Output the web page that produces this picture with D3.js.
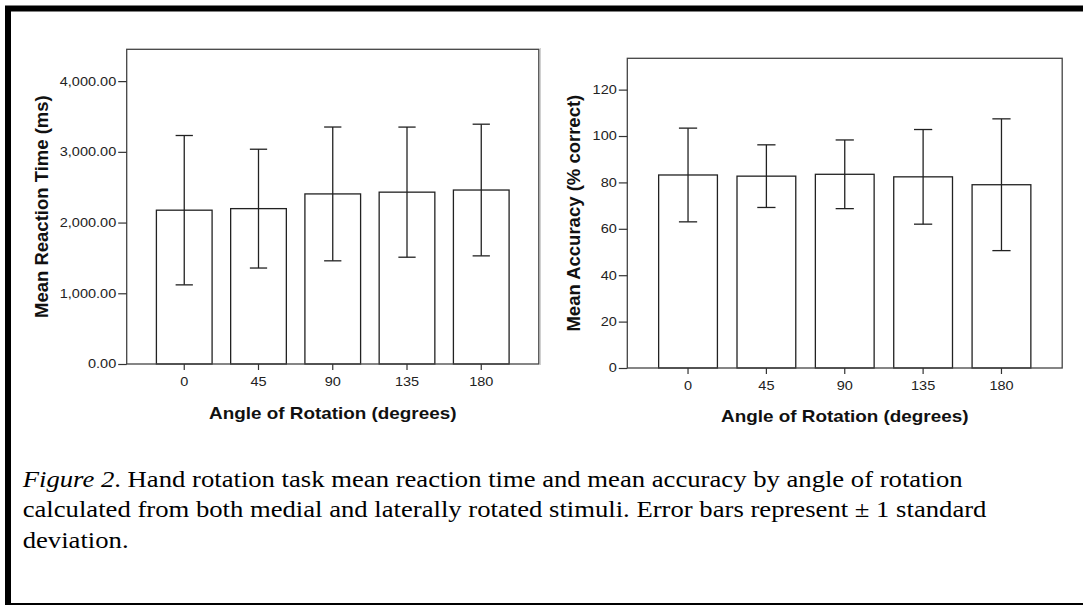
<!DOCTYPE html>
<html>
<head>
<meta charset="utf-8">
<script src="https://cdn.jsdelivr.net/npm/d3@7"></script>
<style>
  body { margin: 0; background: #fff; }
  svg { display: block; }
</style>
</head>
<body>
<svg id="fig" width="1083" height="605"></svg>
<script>
// Data
const angles = ["0", "45", "90", "135", "180"];

// mean reaction time (ms) and +/- 1 SD
const rtMean = [2175, 2197, 2405, 2430, 2460];
const rtSD = [1056, 840, 946, 920, 931];
const rtTicks = [0, 1000, 2000, 3000, 4000];

// mean accuracy (% correct) and +/- 1 SD
const accMean = [83.2, 82.7, 83.5, 82.4, 79.0];
const accSD = [20.2, 13.5, 14.8, 20.4, 28.4];
const accTicks = [0, 20, 40, 60, 80, 100, 120];

const captionLines = [
  [{ t: "Figure", i: true }, { t: " 2", i: true }, { t: ". Hand rotation task mean reaction time and mean accuracy by angle of rotation" }],
  [{ t: "calculated from both medial and laterally rotated stimuli. Error bars represent \u00b1 1 standard" }],
  [{ t: "deviation." }],
];

const svg = d3.select("#fig");
const stretch = 1.18; // source picture is stretched sideways

// outer frame
svg.append("rect")
  .attr("x", 8).attr("y", 8.5)
  .attr("width", 1100).attr("height", 597.5)
  .attr("fill", "none").attr("stroke", "#000").attr("stroke-width", 6);

// faint edge of the pasted left picture
svg.append("line")
  .attr("x1", 540.5).attr("x2", 540.5).attr("y1", 48).attr("y2", 365)
  .attr("stroke", "#d0d0d0").attr("stroke-width", 1);

function drawPanel(cfg) {
  const x = d3.scaleBand()
    .domain(angles)
    .range([cfg.left, cfg.right])
    .paddingInner(0.25)
    .paddingOuter(0.4);

  const y = d3.scaleLinear()
    .domain([0, cfg.max])
    .range([cfg.bottom, cfg.top]);

  const g = svg.append("g");

  // bars
  g.selectAll("rect.bar")
    .data(cfg.mean)
    .join("rect")
    .attr("class", "bar")
    .attr("x", (d, i) => x(angles[i]))
    .attr("y", (d) => y(d))
    .attr("width", x.bandwidth())
    .attr("height", (d) => y(0) - y(d))
    .attr("fill", "#fff")
    .attr("stroke", "#222")
    .attr("stroke-width", 1.3);

  // error bars
  const cap = x.bandwidth() * 0.31;
  const eb = g.selectAll("g.err")
    .data(cfg.mean)
    .join("g")
    .attr("class", "err")
    .attr("stroke", "#222")
    .attr("stroke-width", 1.3);
  eb.append("line")
    .attr("x1", (d, i) => x(angles[i]) + x.bandwidth() / 2)
    .attr("x2", (d, i) => x(angles[i]) + x.bandwidth() / 2)
    .attr("y1", (d, i) => y(d + cfg.sd[i]))
    .attr("y2", (d, i) => y(d - cfg.sd[i]));
  eb.append("line")
    .attr("x1", (d, i) => x(angles[i]) + x.bandwidth() / 2 - cap / 2)
    .attr("x2", (d, i) => x(angles[i]) + x.bandwidth() / 2 + cap / 2)
    .attr("y1", (d, i) => y(d + cfg.sd[i]))
    .attr("y2", (d, i) => y(d + cfg.sd[i]));
  eb.append("line")
    .attr("x1", (d, i) => x(angles[i]) + x.bandwidth() / 2 - cap / 2)
    .attr("x2", (d, i) => x(angles[i]) + x.bandwidth() / 2 + cap / 2)
    .attr("y1", (d, i) => y(d - cfg.sd[i]))
    .attr("y2", (d, i) => y(d - cfg.sd[i]));

  // plot frame
  g.append("rect")
    .attr("x", cfg.left).attr("y", cfg.top)
    .attr("width", cfg.right - cfg.left).attr("height", cfg.bottom - cfg.top)
    .attr("fill", "none").attr("stroke", "#444").attr("stroke-width", 1.3);

  // y axis
  const yAxis = g.append("g")
    .attr("transform", `translate(${cfg.left},0)`)
    .call(d3.axisLeft(y).tickValues(cfg.ticks).tickFormat(cfg.fmt).tickSize(8.5).tickSizeOuter(0));
  yAxis.select(".domain").remove();
  yAxis.selectAll(".tick line").attr("stroke", "#333").attr("stroke-width", 1.2);
  yAxis.selectAll(".tick text")
    .attr("x", -10.5 / stretch)
    .attr("transform", `scale(${stretch},1)`)
    .attr("fill", "#222")
    .style("font-family", "Arial, 'Liberation Sans', sans-serif")
    .style("font-size", "12.3px");

  // x axis
  const xAxis = g.append("g")
    .attr("transform", `translate(0,${cfg.bottom})`)
    .call(d3.axisBottom(x).tickSize(6).tickSizeOuter(0));
  xAxis.select(".domain").remove();
  xAxis.selectAll(".tick line").attr("stroke", "#333").attr("stroke-width", 1.2);
  xAxis.selectAll(".tick text")
    .attr("y", 18).attr("dy", "0.35em")
    .attr("transform", `scale(${stretch},1)`)
    .attr("fill", "#222")
    .style("font-family", "Arial, 'Liberation Sans', sans-serif")
    .style("font-size", "12.3px");

  // axis titles
  svg.append("text")
    .attr("transform", `translate(${(cfg.left + cfg.right) / 2},${cfg.xTitleY}) scale(${stretch},1)`)
    .attr("text-anchor", "middle")
    .style("font-family", "Arial, 'Liberation Sans', sans-serif")
    .style("font-weight", "bold")
    .style("font-size", "16px")
    .attr("fill", "#111")
    .text("Angle of Rotation (degrees)");

  svg.append("text")
    .attr("transform", `translate(${cfg.yTitleX},${(cfg.top + cfg.bottom) / 2}) rotate(-90)`)
    .attr("text-anchor", "middle")
    .attr("dy", "0.35em")
    .style("font-family", "Arial, 'Liberation Sans', sans-serif")
    .style("font-weight", "bold")
    .style("font-size", "18.5px")
    .attr("fill", "#111")
    .text(cfg.yTitle);
}

drawPanel({
  left: 126.7, right: 538.8, top: 49.3, bottom: 364,
  max: 4450, mean: rtMean, sd: rtSD, ticks: rtTicks,
  fmt: d3.format(",.2f"),
  yTitle: "Mean Reaction Time (ms)", yTitleX: 42, xTitleY: 418.5,
});

drawPanel({
  left: 627.3, right: 1062.2, top: 58.3, bottom: 368,
  max: 133.5, mean: accMean, sd: accSD, ticks: accTicks,
  fmt: d3.format("d"),
  yTitle: "Mean Accuracy (% correct)", yTitleX: 574, xTitleY: 422,
});

// caption
const capY = [487, 517, 548];
captionLines.forEach((parts, k) => {
  const t = svg.append("text")
    .attr("transform", `translate(22.7,${capY[k]}) scale(1.16,1)`)
    .style("font-family", "'Times New Roman', 'Liberation Serif', serif")
    .style("font-size", "23px")
    .attr("fill", "#000");
  parts.forEach((p) => {
    t.append("tspan")
      .style("font-style", p.i ? "italic" : "normal")
      .text(p.t);
  });
});
</script>
</body>
</html>
